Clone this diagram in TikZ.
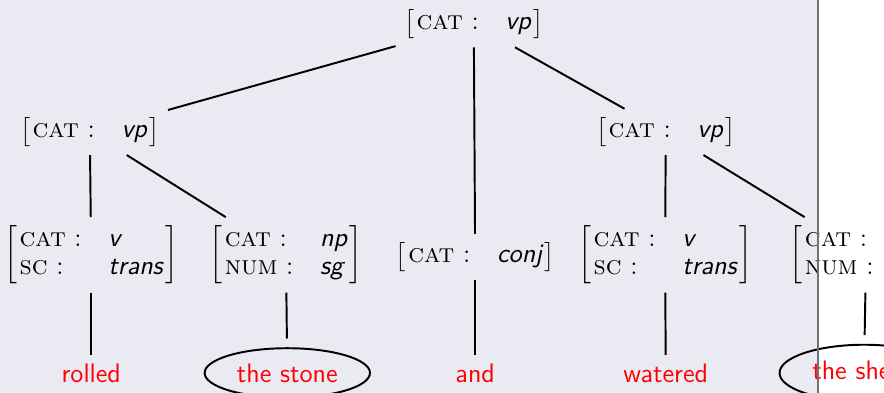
\documentclass[tikz,border=0pt]{standalone}
\usepackage{fontspec}
\usepackage{tikz}
\usetikzlibrary{shapes.geometric}
\definecolor{slideBg}{RGB}{233,234,242}
\newcommand{\slidefont}{\fontsize{11}{13.6}\selectfont}
\newcommand{\feat}[1]{{\rmfamily\scshape #1}\ :}
\newcommand{\val}[1]{{\sffamily\itshape #1}}
\newcommand{\avmsetup}{\renewcommand{\arraystretch}{0.85}\delimiterfactor=1001 \delimitershortfall=0pt }
\newcommand{\avmone}[2]{\avmsetup$\left[\begin{tabular}{@{\hspace{1pt}}l@{\hspace{11pt}}l@{\hspace{1pt}}}\feat{#1} & \val{#2}\end{tabular}\right]$}
\newcommand{\avmtwo}[4]{\avmsetup$\biggl[\begin{tabular}{@{\hspace{1pt}}l@{\hspace{11pt}}l@{\hspace{1pt}}}\feat{#1} & \val{#2}\\ \feat{#3} & \val{#4}\end{tabular}\biggr]$}

\begin{document}
\begin{tikzpicture}[
    avm/.style={font=\slidefont},
    word/.style={font=\slidefont\sffamily, text=red},
    circled/.style={word, draw, thick, ellipse, outer sep=4pt},
    edge/.style={thick},
]
    % Slide area
    \useasboundingbox (0, 0) rectangle (12.8, -5.69);
    \fill[slideBg] (0, 0) rectangle (11.84, -5.69);

    % Phrases
    \node[avm] (s) at (6.86, -0.35) {\avmone{cat}{vp}};
    \node[avm] (vp1) at (1.30, -1.91) {\avmone{cat}{vp}};
    \node[avm] (vp2) at (9.64, -1.91) {\avmone{cat}{vp}};

    % Lexical entries
    \node[avm] (v1) at (1.32, -3.69) {\avmtwo{cat}{v}{sc}{trans}};
    \node[avm] (np1) at (4.14, -3.69) {\avmtwo{cat}{np}{num}{sg}};
    \node[avm] (conj) at (6.88, -3.72) {\avmone{cat}{conj}};
    \node[avm] (v2) at (9.63, -3.69) {\avmtwo{cat}{v}{sc}{trans}};
    \node[avm] (np2) at (12.54, -3.69) {\avmtwo{cat}{np}{num}{sg}};

    % Words
    \node[word] (w1) at (1.32, -5.40) {rolled};
    \node[circled] (w2) at (4.16, -5.40) {the stone};
    \node[word] (w3) at (6.88, -5.40) {and};
    \node[word] (w4) at (9.64, -5.40) {watered};
    \node[circled] (w5) at (12.51, -5.40) {the sheep};

    \draw[edge] (s) -- (vp1);
    \draw[edge] (s) -- (conj);
    \draw[edge] (s) -- (vp2);
    \draw[edge] (vp1) -- (v1);
    \draw[edge] (vp1) -- (np1);
    \draw[edge] (vp2) -- (v2);
    \draw[edge] (vp2) -- (np2);
    \draw[edge] (v1) -- (w1);
    \draw[edge] (np1) -- (w2);
    \draw[edge] (conj) -- (w3);
    \draw[edge] (v2) -- (w4);
    \draw[edge] (np2) -- (w5);

    % Slide edge
    \draw[black!55, line width=0.7pt] (11.84, 0) -- (11.84, -5.69);
\end{tikzpicture}
\end{document}
